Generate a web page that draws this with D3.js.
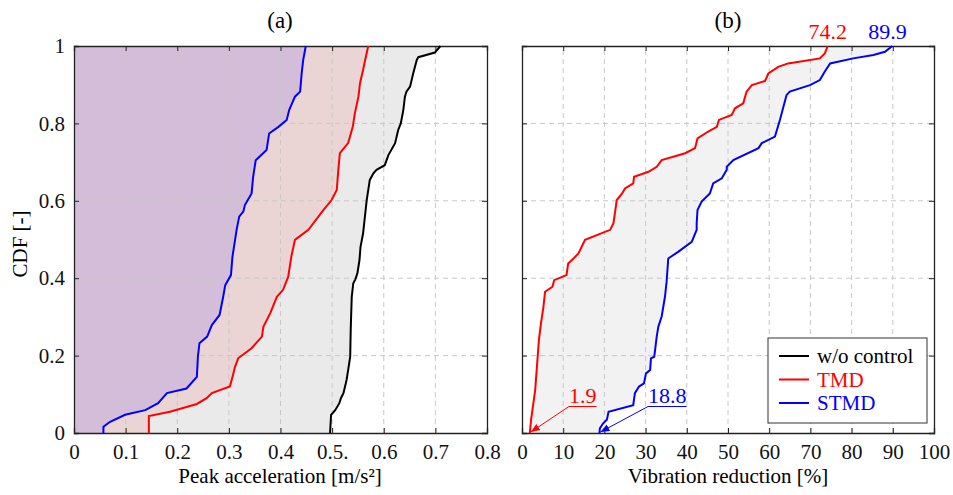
<!DOCTYPE html>
<html>
<head>
<meta charset="UTF-8" />
<title>CDF peak acceleration / vibration reduction</title>
<script src="https://d3js.org/d3.v7.min.js"></script>
<style>
  body { margin: 0; background: #fff; }
  svg text { font-family: "Liberation Serif", serif; }
</style>
</head>
<body>
<svg id="chart" width="953" height="495" font-family="Liberation Serif"></svg>
<script>
// ---- data: [value, CDF] ----
// (a) peak acceleration [m/s2]
var accNone = [[0.496,0],[0.498,0.047],[0.506,0.059],[0.514,0.077],[0.517,0.09],[0.522,0.103],
  [0.528,0.137],[0.532,0.171],[0.535,0.197],[0.536,0.266],[0.538,0.352],[0.541,0.387],[0.545,0.397],
  [0.549,0.413],[0.553,0.447],[0.555,0.481],[0.560,0.516],[0.567,0.602],[0.573,0.654],[0.580,0.671],
  [0.586,0.680],[0.602,0.692],[0.609,0.718],[0.622,0.749],[0.628,0.783],[0.633,0.800],[0.638,0.835],
  [0.641,0.869],[0.644,0.882],[0.651,0.895],[0.657,0.929],[0.664,0.964],[0.667,0.971],[0.699,0.983],
  [0.706,0.994],[0.710,1]]
var accTMD = [[0.145,0],[0.145,0.044],[0.186,0.055],[0.238,0.075],[0.257,0.09],[0.267,0.103],
  [0.302,0.120],[0.307,0.145],[0.312,0.171],[0.318,0.193],[0.344,0.219],[0.364,0.249],[0.367,0.275],
  [0.380,0.309],[0.393,0.352],[0.405,0.370],[0.415,0.404],[0.421,0.456],[0.428,0.499],[0.454,0.525],
  [0.483,0.576],[0.499,0.602],[0.509,0.628],[0.512,0.680],[0.515,0.723],[0.531,0.749],[0.540,0.791],
  [0.544,0.826],[0.551,0.869],[0.554,0.904],[0.560,0.938],[0.564,0.964],[0.570,1]]
var accSTMD = [[0.057,0],[0.057,0.016],[0.070,0.029],[0.099,0.047],[0.138,0.059],[0.163,0.077],
  [0.180,0.103],[0.218,0.115],[0.238,0.145],[0.240,0.197],[0.243,0.232],[0.258,0.249],[0.267,0.279],
  [0.282,0.305],[0.289,0.352],[0.293,0.382],[0.304,0.408],[0.307,0.456],[0.312,0.499],[0.315,0.525],
  [0.320,0.559],[0.328,0.572],[0.331,0.589],[0.344,0.619],[0.347,0.662],[0.352,0.705],[0.373,0.731],
  [0.378,0.774],[0.396,0.791],[0.412,0.809],[0.417,0.835],[0.428,0.869],[0.438,0.882],[0.441,0.929],
  [0.444,0.964],[0.449,1]]
// (b) vibration reduction [%]
var redTMD = [[1.9,0],[2.2,0.034],[3.2,0.111],[4.1,0.240],[4.6,0.283],[5.2,0.326],[5.6,0.365],
  [7.4,0.378],[7.8,0.395],[10.8,0.408],[11.2,0.438],[12.5,0.451],[13.7,0.464],[15.3,0.499],
  [21.4,0.525],[22.2,0.542],[23.0,0.602],[24.3,0.619],[25.0,0.632],[27.0,0.645],[27.2,0.662],
  [30.7,0.675],[32.7,0.688],[33.9,0.705],[39.6,0.723],[42.0,0.736],[42.6,0.761],[45.2,0.779],
  [47.3,0.791],[47.8,0.809],[50.9,0.822],[51.7,0.839],[53.7,0.852],[54.5,0.882],[55.8,0.899],
  [59.0,0.910],[59.8,0.929],[62.2,0.946],[64.6,0.955],[72.3,0.968],[73.5,0.981],[74.2,1]]
var redSTMD = [[18.8,0],[18.9,0.012],[19.7,0.025],[20.6,0.034],[21.0,0.055],[27.0,0.072],
  [27.4,0.103],[28.4,0.120],[29.6,0.128],[30.1,0.154],[31.1,0.163],[31.3,0.193],[32.1,0.197],
  [32.7,0.249],[33.1,0.275],[33.9,0.301],[34.7,0.352],[35.1,0.391],[35.5,0.451],[37.9,0.468],
  [41.2,0.494],[42.4,0.525],[42.4,0.542],[42.6,0.576],[43.6,0.598],[45.6,0.619],[46.4,0.645],
  [48.5,0.658],[49.7,0.680],[49.7,0.688],[51.3,0.705],[57.4,0.736],[58.2,0.749],[61.4,0.766],
  [62.6,0.809],[64.2,0.873],[65.0,0.882],[69.9,0.899],[72.3,0.912],[73.5,0.934],[74.8,0.955],
  [80.4,0.968],[85.3,0.977],[88.1,0.985],[89.9,1]]

var accTicks = [0,0.1,0.2,0.3,0.4,0.5,0.6,0.7,0.8]
var accTickLabels = ["0","0.1","0.2","0.3","0.4","0.5.","0.6","0.7","0.8"]
var redTicks = [0,10,20,30,40,50,60,70,80,90,100]
var cdfTicks = [0,0.2,0.4,0.6,0.8,1]
var seriesNames = ["w/o control","TMD","STMD"]
var seriesColors = ["#000000","#ff0000","#0000ff"]

var FONT = "Liberation Serif"
var svg = d3.select("#chart")
var H = 387, top0 = 46

var y = d3.scaleLinear().domain([0,1]).range([top0+H, top0])
var xa = d3.scaleLinear().domain([0,0.8]).range([74,487])
var xb = d3.scaleLinear().domain([0,100]).range([522,934])

function line(x) {
  return d3.line().x(d=>x(d[0])).y(d=>y(d[1]))
}
function fillTo0(x) {
  return d3.area().y(d=>y(d[1])).x0(x(0)).x1(d=>x(d[0]))
}

// draw grid, ticks and frame for a panel
function frame(x, ticks, labels, showY) {
  var g = svg.append("g")
  var x0 = x.range()[0], x1 = x.range()[1]
  // dashed grid
  g.selectAll("line.vg").data(ticks.slice(1, -1)).enter().append("line")
    .attr("x1", d=>x(d)).attr("x2", d=>x(d)).attr("y1", y(0)).attr("y2", y(1))
    .style("stroke", "#c8c8c8").style("stroke-dasharray", "5,4").style("stroke-width", 1)
  g.selectAll("line.hg").data(cdfTicks.slice(1, -1)).enter().append("line")
    .attr("x1", x0).attr("x2", x1).attr("y1", d=>y(d)).attr("y2", d=>y(d))
    .style("stroke", "#c8c8c8").style("stroke-dasharray", "5,4").style("stroke-width", 1)

  var fmt = labels ? (d,i)=>labels[i] : d3.format("d")
  g.append("g").attr("transform", `translate(0,${y(0)})`)
    .call(d3.axisBottom(x).tickValues(ticks).tickSize(-5).tickPadding(11).tickFormat(fmt))
  g.append("g").attr("transform", `translate(0,${y(1)})`)
    .call(d3.axisTop(x).tickValues(ticks).tickSize(-5).tickFormat(""))
  g.append("g").attr("transform", `translate(${x0},0)`)
    .call(d3.axisLeft(y).tickValues(cdfTicks).tickSize(-5).tickPadding(9)
      .tickFormat(showY ? d3.format("") : ""))
  g.append("g").attr("transform", `translate(${x1},0)`)
    .call(d3.axisRight(y).tickValues(cdfTicks).tickSize(-5).tickFormat(""))
  g.selectAll("g").attr("font-family", FONT).attr("font-size", 21)
  g.selectAll(".domain").style("stroke", "#222").style("stroke-width", 1.3)
  g.selectAll(".tick line").style("stroke", "#222")
  g.selectAll(".tick text").style("fill", "#111")
  return g
}

// ---- panel (a) ----
svg.append("path").datum(accNone).attr("d", fillTo0(xa)).style("fill", "#eaeaea")
svg.append("path").datum(accTMD).attr("d", fillTo0(xa)).style("fill", "#ead4d4")
svg.append("path").datum(accSTMD).attr("d", fillTo0(xa)).style("fill", "#d4bdd8")
frame(xa, accTicks, accTickLabels, true)
;[accNone, accTMD, accSTMD].forEach((s,i)=>{
  svg.append("path").datum(s).attr("d", line(xa))
    .style("fill", "none").style("stroke", seriesColors[i]).style("stroke-width", 2)
})

// ---- panel (b) ----
var band = redTMD.concat(redSTMD.slice().reverse())
svg.append("path").datum(band).attr("d", line(xb).curve(d3.curveLinearClosed)).style("fill", "#f2f2f2")
frame(xb, redTicks, null, false)
;[redTMD, redSTMD].forEach((s,i)=>{
  svg.append("path").datum(s).attr("d", line(xb))
    .style("fill", "none").style("stroke", seriesColors[i+1]).style("stroke-width", 2)
})

// end values at the top
svg.append("text").attr("x", xb(74.2)).attr("y", 39).attr("text-anchor", "middle")
  .attr("fill", "#ff0000").attr("font-size", 22).text("74.2")
svg.append("text").attr("x", xb(89.9)-5).attr("y", 39).attr("text-anchor", "middle")
  .attr("fill", "#0000ff").attr("font-size", 22).text("89.9")

// start values with arrows
var defs = svg.append("defs")
seriesColors.slice(1).forEach((c,i)=>{
  defs.append("marker").attr("id", "arr"+i).attr("viewBox", "0 0 10 10")
    .attr("refX", 10).attr("refY", 5).attr("markerWidth", 9).attr("markerHeight", 9)
    .attr("orient", "auto").attr("markerUnits", "userSpaceOnUse")
    .append("path").attr("d", "M0,1L10,5L0,9z").style("fill", c)
})
var notes = [{v: 1.9, label: "1.9", tx: 11.4, c: 0}, {v: 18.8, label: "18.8", tx: 30.6, c: 1}]
notes.forEach(n=>{
  var t = svg.append("text").attr("x", xb(n.tx)).attr("y", 403)
    .attr("fill", seriesColors[n.c+1]).attr("font-size", 22).attr("font-family", FONT).text(n.label)
  var w = t.node().getComputedTextLength()
  svg.append("line").attr("x1", xb(n.tx)).attr("x2", xb(n.tx)+w).attr("y1", 406.5).attr("y2", 406.5)
    .style("stroke", seriesColors[n.c+1]).style("stroke-width", 1)
  svg.append("line").attr("x1", xb(n.tx)).attr("y1", 406.5).attr("x2", xb(n.v)+1).attr("y2", y(0)-1)
    .style("stroke", seriesColors[n.c+1]).style("stroke-width", 1).attr("marker-end", `url(#arr${n.c})`)
})

// legend
var lg = svg.append("g").attr("transform", "translate(768,338)")
lg.append("rect").attr("width", 159).attr("height", 85).style("fill", "#fff").style("stroke", "#333").style("stroke-width", 1)
seriesNames.forEach((s,i)=>{
  lg.append("line").attr("x1", 11).attr("x2", 41).attr("y1", 18+i*23.5).attr("y2", 18+i*23.5)
    .style("stroke", seriesColors[i]).style("stroke-width", 2)
  lg.append("text").attr("x", 49).attr("y", 25+i*23.5).attr("font-size", 21)
    .attr("fill", seriesColors[i]).text(s)
})

// titles and axis labels
svg.append("text").attr("x", 280).attr("y", 28).attr("text-anchor", "middle").attr("font-size", 23).text("(a)")
svg.append("text").attr("x", 728).attr("y", 28).attr("text-anchor", "middle").attr("font-size", 23).text("(b)")
svg.append("text").attr("x", 280).attr("y", 483).attr("text-anchor", "middle").attr("font-size", 21).text("Peak acceleration [m/s²]")
svg.append("text").attr("x", 728).attr("y", 483).attr("text-anchor", "middle").attr("font-size", 21).text("Vibration reduction [%]")
svg.append("text").attr("transform", "translate(27,244) rotate(-90)").attr("text-anchor", "middle")
  .attr("font-size", 21).text("CDF [-]")

svg.selectAll("text").attr("font-family", FONT)
</script>
</body>
</html>
